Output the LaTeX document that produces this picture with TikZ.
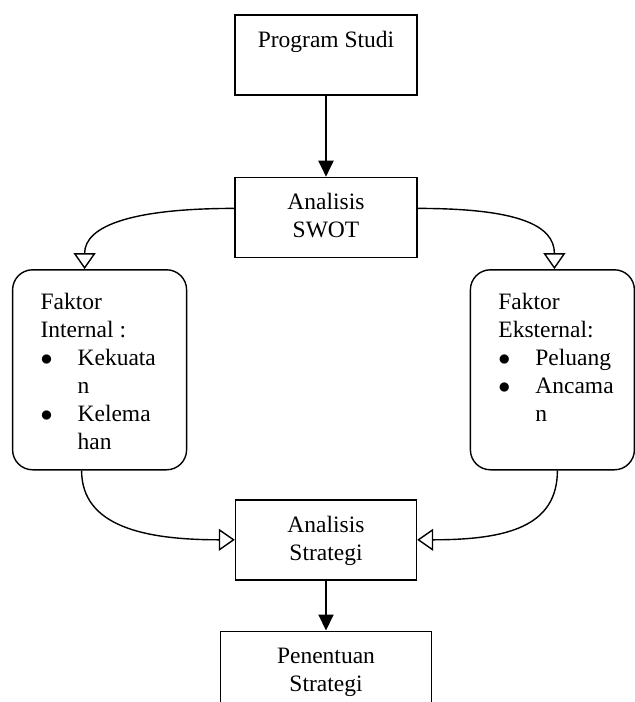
\documentclass[tikz,border=0pt]{standalone}
\usepackage{fontspec}
\setmainfont{Liberation Serif}
\usetikzlibrary{arrows.meta,positioning}
\newcommand{\butir}{\makebox[18.5pt][l]{$\bullet$}}
\newcommand{\lanjut}{\hspace*{18.5pt}}
\tikzset{
  kotak/.style={draw,line width=0.7pt,inner xsep=0pt,inner ysep=6.4pt,
    font=\fontsize{11.75}{14}\selectfont},
  bulat/.style={kotak,rounded corners=10pt,inner ysep=10.2pt},
  panah/.style={-{Triangle[length=8pt,width=7.5pt]},line width=1pt},
  panahbuka/.style={-{Triangle[open,length=8pt,width=11pt]},line width=0.7pt},
}
\begin{document}
\begin{tikzpicture}
  \useasboundingbox (0,0) rectangle (317.5pt,-351pt);
  \node[kotak] (prog) at (163pt,-27.5pt)
    {\parbox[t][27.2pt][t]{91pt}{\centering\strut Program Studi}};
  \node[kotak,below=40.5pt of prog] (swot)
    {\parbox[t][27.2pt][t]{91pt}{\centering\strut Analisis\\SWOT}};
  \node[bulat,below left=5.5pt and 23.5pt of swot] (fi)
    {\parbox[t][79.6pt][t]{87pt}{\raggedright\leftskip=14pt\strut Faktor\\
      Internal :\\\butir Kekuata\\\lanjut n\\\butir Kelema\\\lanjut han}};
  \node[bulat,below right=5.5pt and 26pt of swot] (fe)
    {\parbox[t][79.6pt][t]{82pt}{\raggedright\leftskip=14pt\strut Faktor\\
      Eksternal:\\\butir Peluang\\\butir Ancama\\\lanjut n}};
  \node[kotak,below=120.5pt of swot] (strat)
    {\parbox[t][27.2pt][t]{90.5pt}{\centering\strut Analisis\\Strategi}};
  \node[kotak,below=25pt of strat] (pen)
    {\parbox[t][27.2pt][t]{105.5pt}{\centering\strut Penentuan\\Strategi}};
  \draw[panah] (prog) -- (swot);
  \draw[panahbuka] ([yshift=4.5pt]swot.west) .. controls +(-50pt,0pt) and +(0pt,22pt) .. ([xshift=-7.5pt]fi.north);
  \draw[panahbuka] ([yshift=4.5pt]swot.east) .. controls +(50pt,0pt) and +(0pt,22pt) .. ([xshift=1pt]fe.north);
  \draw[panahbuka] ([xshift=-9pt]fi.south) .. controls +(0pt,-28pt) and +(-45pt,0pt) .. (strat.west);
  \draw[panahbuka] ([xshift=2.5pt]fe.south) .. controls +(0pt,-28pt) and +(45pt,0pt) .. (strat.east);
  \draw[panah] (strat) -- (pen);
\end{tikzpicture}
\end{document}
